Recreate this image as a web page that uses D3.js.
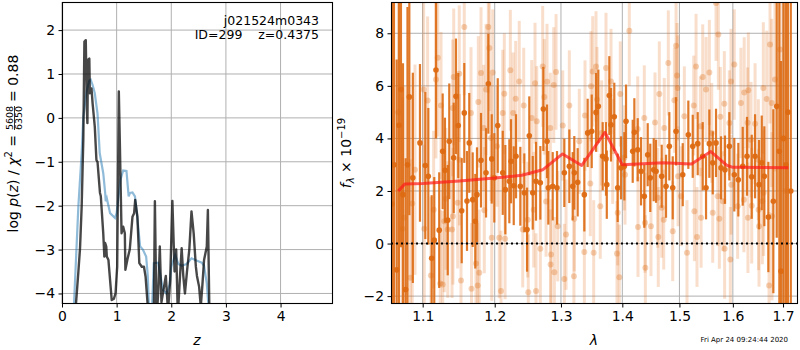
<!DOCTYPE html>
<html>
<head>
<meta charset="utf-8">
<script src="https://cdn.jsdelivr.net/npm/d3@7"></script>
<style>
body { margin: 0; background: #fff; }
text { font-family: "DejaVu Sans", sans-serif; }
</style>
</head>
<body>
<script>
// ---- left panel: p(z) curves ----
var zGrid = [0.20,0.24,0.30,0.33,0.36,0.39,0.41,0.435,0.455,0.465,0.475,0.50,0.51,0.54,0.56,0.60,0.63,0.65,0.695,0.71,0.755,0.775,0.79,0.81,0.82,0.85,0.91,0.95,0.98,1.01,1.04,1.06,1.09,1.12,1.15,1.16,1.20,1.24,1.29,1.32,1.34,1.38,1.415,1.46,1.50,1.53,1.57,1.62,1.68,1.70,1.73,1.76,1.79,1.82,1.86,1.90,1.94,1.98,2.02,2.06,2.09,2.12,2.16,2.19,2.22,2.25,2.29,2.33,2.37,2.41,2.45,2.47,2.51,2.54,2.57,2.60,2.65,2.67,2.70,2.72];
var logPz = [-6,-4.5,-3.5,-2.97,-2.02,-0.5,1.74,1.77,0.2,-0.12,1.32,1.35,0.56,0.67,0.33,-0.2,-0.96,-1.0,-1.71,-1.78,-2.63,-3.16,-2.85,-2.93,-3.16,-3.24,-4.15,-4.12,-4.0,-3.39,0.6,-0.65,-2.63,-2.48,-2.63,-3.46,-3.21,-3.0,-2.25,-2.17,-1.87,-2.25,-3.31,-3.39,-3.39,-3.62,-4.3,-5.5,-4.6,-1.9,-4.6,-4.0,-2.93,-4.2,-3.9,-3.6,-4.4,-3.7,-1.89,-3.5,-3.0,-4.5,-3.6,-2.97,-3.6,-4.0,-3.47,-3.0,-2.13,-2.63,-3.39,-3.6,-3.85,-4.3,-3.8,-3.24,-2.93,-2.1,-4.6,-6];

var zChi = [0.20,0.22,0.30,0.36,0.39,0.45,0.50,0.525,0.56,0.60,0.65,0.69,0.755,0.79,0.80,0.82,0.88,0.97,1.00,1.07,1.12,1.18,1.22,1.245,1.29,1.335,1.37,1.43,1.48,1.54,1.57,1.60,1.64,1.68,1.76,1.85,1.91,1.97,2.00,2.07,2.13,2.19,2.28,2.37,2.46,2.56,2.60,2.65,2.70,2.72];
var chiCurve = [-6,-4.24,-2.0,-0.8,0.03,0.6,0.85,0.87,0.75,0.56,0.1,-0.8,-1.26,-1.71,-1.9,-1.83,-2.17,-2.28,-2.17,-1.41,-1.2,-1.21,-1.79,-1.71,-1.7,-1.79,-2.17,-2.93,-3.0,-3.16,-3.6,-4.6,-4.6,-3.31,-3.3,-3.92,-4.0,-3.8,-3.39,-3.12,-3.33,-3.37,-3.33,-3.2,-3.25,-3.3,-3.37,-3.77,-4.6,-6];

var zTicks = [0, 1, 2, 3, 4];
var pzTicks = [-4, -3, -2, -1, 0, 1, 2];

// ---- right panel: spectrum ----
var lamA = [1.0600,1.0625,1.0660,1.0690,1.0715,1.0741,1.0776,1.0800,1.0824,1.0870,1.0964,1.1035,1.1075,1.1120,1.1155,1.1178,1.1222,1.1269,1.1300,1.1338,1.1359,1.1420,1.1451,1.1483,1.1531,1.1567,1.1605,1.1637,1.1685,1.1722,1.1746,1.1803,1.1875,1.1908,1.1957,1.1994,1.2044,1.2117,1.2155,1.2214,1.2239,1.2279,1.2313,1.2377,1.2437,1.2478,1.2512,1.2564,1.2614,1.2680,1.2726,1.2783,1.2803,1.2871,1.2938,1.3053,1.3132,1.3186,1.3211,1.3265,1.3372,1.3426,1.3492,1.3562,1.3600,1.3672,1.3727,1.3740,1.3782,1.3810,1.3865,1.3922,1.3978,1.4034,1.4063,1.4177,1.4205,1.4263,1.4320,1.4377,1.4436,1.4481,1.4541,1.4582,1.4682,1.4759,1.4818,1.4879,1.4939,1.5060,1.5162,1.5243,1.5335,1.5428,1.5490,1.5552,1.5616,1.5678,1.5773,1.5849,1.5932,1.6028,1.6106,1.6192,1.6276,1.6369,1.6435,1.6514,1.6568,1.6620,1.6701,1.6802,1.6871,1.6924,1.6959,1.7010,1.7060,1.7100,1.7160];
var fluxA = [1.5,3.0,-1.0,4.5,5.86,1.86,-1.75,3.0,5.58,2.5,3.83,2.97,2.56,-0.56,0.13,6.6,0.51,3.51,2.79,0.89,3.89,3.26,5.6,4.49,1.25,4.97,1.62,3.83,1.67,0.85,1.86,3.17,2.69,6.08,3.22,2.5,4.49,2.69,2.05,2.37,3.13,2.2,3.32,2.18,1.93,0.53,4.1,1.93,2.37,2.31,5.12,3.89,2.12,2.18,2.12,2.69,2.94,2.18,2.69,2.33,1.86,4.21,4.27,4.99,5.22,3.32,3.22,2.24,5.63,4.52,4.82,2.12,2.88,2.94,4.65,3.51,4.23,3.57,2.75,1.8,3.38,2.5,2.81,2.75,2.56,2.18,3.7,2.12,4.27,2.62,4.14,3.7,3.8,3.32,2.12,3.8,3.07,3.83,2.88,2.81,3.7,2.62,2.43,2.94,3.32,2.54,3.32,2.24,3.07,2.56,1.01,1.61,5.22,3.51,-1.05,4.0,3.0,5.0,2.0];
var errA = [9,8,8,7,6,5,5,6,4.5,4,3.0,2.8,2.6,2.4,2.4,2.6,2.2,2.2,2.0,2.1,2.2,2.1,2.2,2.0,2.0,1.9,1.9,1.9,1.8,1.8,1.8,1.8,1.7,1.9,1.7,1.7,1.8,1.6,1.7,1.6,1.6,1.5,1.6,1.5,1.5,1.6,1.5,1.4,1.5,1.4,1.6,1.4,1.4,1.3,1.4,1.3,1.4,1.3,1.4,1.3,1.4,1.3,1.4,1.5,1.4,1.3,1.4,1.3,1.5,1.4,1.3,1.3,1.2,1.3,1.4,1.2,1.3,1.2,1.3,1.2,1.2,1.3,1.2,1.2,1.2,1.2,1.3,1.2,1.3,1.2,1.3,1.2,1.2,1.3,1.2,1.3,1.2,1.3,1.2,1.3,1.3,1.4,1.4,1.5,1.5,1.6,1.6,1.7,1.8,1.9,2.1,3.5,5,7,8,8,9,9,9];

var lamB = [1.0620,1.0680,1.0736,1.0757,1.0837,1.0862,1.0898,1.1013,1.1021,1.1066,1.1110,1.1147,1.1178,1.1202,1.1236,1.1246,1.1269,1.1291,1.1314,1.1338,1.1397,1.1406,1.1410,1.1420,1.1475,1.1497,1.1500,1.1521,1.1567,1.1661,1.1668,1.1732,1.1756,1.1765,1.1779,1.1803,1.1841,1.1850,1.1875,1.1908,1.1922,1.1947,1.1957,1.1971,1.2033,1.2066,1.2092,1.2117,1.2140,1.2151,1.2229,1.2270,1.2308,1.2361,1.2413,1.2428,1.2488,1.2497,1.2549,1.2579,1.2599,1.2614,1.2625,1.2680,1.2716,1.2741,1.2768,1.2783,1.2834,1.2838,1.2845,1.2887,1.2897,1.2923,1.2949,1.3028,1.3053,1.3080,1.3132,1.3205,1.3211,1.3291,1.3372,1.3383,1.3469,1.3480,1.3508,1.3524,1.3562,1.3579,1.3632,1.3655,1.3727,1.3810,1.3838,1.3910,1.3922,1.3949,1.3966,1.4034,1.4046,1.4119,1.4263,1.4268,1.4377,1.4389,1.4395,1.4493,1.4564,1.4612,1.4622,1.4640,1.4682,1.4718,1.4728,1.4800,1.4879,1.4909,1.4939,1.4957,1.4969,1.4975,1.5029,1.5089,1.5138,1.5262,1.5273,1.5304,1.5322,1.5384,1.5397,1.5428,1.5490,1.5552,1.5597,1.5616,1.5678,1.5711,1.5722,1.5741,1.5760,1.5806,1.5836,1.5842,1.5932,1.5951,1.5964,1.5970,1.6028,1.6093,1.6157,1.6215,1.6221,1.6288,1.6294,1.6302,1.6355,1.6369,1.6435,1.6500,1.6505,1.6514,1.6580,1.6600,1.6606,1.6668,1.6715,1.6735,1.6769,1.6775,1.6836,1.6938,1.7000,1.7050];
var fluxB = [3.0,5.0,0.56,0.98,-1.3,1.52,2.81,5.86,0.56,5.44,-1.22,1.29,6.24,7.07,-1.52,5.25,-1.56,0.85,1.7,0.53,0.53,5.16,1.04,6.34,1.55,6.46,3.19,-1.41,8.24,4.97,-1.72,-0.76,-1.6,5.39,-1.11,6.49,4.4,1.27,5.86,8.24,7.44,4.02,0.22,6.51,3.7,0.22,-1.81,4.97,5.7,0.18,6.59,4.97,5.51,6.17,0.53,5.25,0.91,-1.85,4.78,1.29,6.1,-1.81,4.65,-0.2,6.74,5.58,1.6,6.16,4.4,-0.8,-0.42,6.03,-1.09,6.53,0.66,4.49,-1.35,0.34,5.25,-1.24,0.94,3.89,-0.32,4.87,2.28,5.98,6.55,-0.35,6.74,5.48,1.42,4.21,6.68,6.17,3.51,-0.38,1.17,-1.28,5.69,3.26,2.62,8.1,4.36,0.63,4.78,0.79,-0.92,0.66,4.61,1.74,0.25,5.69,1.36,0.91,4.4,6.87,0.47,5.45,7.53,6.39,5.92,2.56,1.8,4.84,-0.35,5.25,1.23,6.74,0.25,4.46,0.98,6.34,5.86,6.51,4.21,1.17,9.15,1.8,7.95,0.94,4.82,1.61,5.32,-0.2,4.59,-0.61,6.17,2.24,6.81,1.42,5.35,1.67,5.75,4.6,0.98,5.83,3.95,1.44,4.56,3.19,1.29,0.66,1.61,5.92,1.93,5.5,-1.6,7.57,5.35,1.04,6.24,7.38,4.0,2.0];
var errB = [7,6,5,5,4.5,4,4,3.5,3.2,3.2,3,3,3,3,2.8,2.8,2.8,2.7,2.7,2.6,2.6,2.6,2.6,2.6,2.5,2.6,2.5,2.5,2.6,2.5,2.5,2.4,2.4,2.5,2.4,2.5,2.4,2.4,2.5,2.5,2.4,2.4,2.4,2.4,2.3,2.3,2.3,2.4,2.3,2.3,2.3,2.3,2.2,2.3,2.2,2.2,2.2,2.2,2.2,2.2,2.3,2.2,2.1,2.2,2.3,2.2,2.1,2.2,2.1,2.1,2.1,2.2,2.1,2.2,2.1,2.1,2.1,2.1,2.1,2.1,2.0,2.0,2.0,2.1,2.0,2.1,2.1,2.0,2.1,2.0,2.0,2.0,2.1,2.0,2.0,2.0,2.0,2.0,2.0,2.0,1.9,2.1,2.0,1.9,2.0,1.9,2.0,1.9,1.9,1.9,1.9,2.0,1.9,1.9,1.9,2.0,1.9,2.0,2.1,2.0,2.0,1.9,1.9,1.9,2.0,1.9,1.9,2.0,1.9,1.9,1.9,2.0,2.0,2.0,1.9,1.9,2.2,1.9,2.1,1.9,1.9,1.9,2.0,1.9,2.0,2.0,2.0,1.9,2.1,2.0,2.1,2.0,2.1,2.1,2.1,2.2,2.2,2.2,2.3,2.3,2.3,2.3,2.4,2.5,2.4,2.6,2.8,3,3.2,3.2,3.5,4.5,7,8];

var lamModel = [1.068,1.0767,1.10,1.15,1.20,1.24,1.272,1.3025,1.333,1.371,1.40,1.471,1.522,1.558,1.588,1.60,1.711];
var fluxModel = [2.0,2.27,2.28,2.38,2.49,2.6,2.81,3.41,2.97,4.23,3.0,3.07,3.03,3.5,2.98,2.9,2.88];

var lamTicks = [1.1, 1.2, 1.3, 1.4, 1.5, 1.6, 1.7];
var fluxTicks = [-2, 0, 2, 4, 6, 8];

var svg = d3.select("body").append("svg")
    .attr("width", 800)
    .attr("height", 350);

var defs = svg.append("defs");

function panel(name, x0, x1, y0, y1) 
{
    defs.append("clipPath").attr("id", "clip-" + name)
        .append("rect")
        .attr("x", x0).attr("y", y0)
        .attr("width", x1 - x0).attr("height", y1 - y0);
    return svg.append("g");
}

function grid(g, x, y, xt, yt)
{
    var x0 = x.range()[0], x1 = x.range()[1];
    var y0 = y.range()[1], y1 = y.range()[0];
    g.append("g").selectAll("line").data(xt).enter().append("line")
        .attr("x1", function(d) { return x(d); })
        .attr("x2", function(d) { return x(d); })
        .attr("y1", y0).attr("y2", y1)
        .style("stroke", "#b0b0b0").style("stroke-width", 1);
    g.append("g").selectAll("line").data(yt).enter().append("line")
        .attr("y1", function(d) { return y(d); })
        .attr("y2", function(d) { return y(d); })
        .attr("x1", x0).attr("x2", x1)
        .style("stroke", "#b0b0b0").style("stroke-width", 1);
}

function frame(g, x, y, xt, yt, xfmt, yfmt)
{
    var x0 = x.range()[0], x1 = x.range()[1];
    var y0 = y.range()[1], y1 = y.range()[0];
    var ax = g.append("g")
        .attr("transform", "translate(0," + y1 + ")")
        .call(d3.axisBottom(x).tickValues(xt).tickFormat(xfmt).tickSize(3.5).tickPadding(3.5));
    var ay = g.append("g")
        .attr("transform", "translate(" + x0 + ",0)")
        .call(d3.axisLeft(y).tickValues(yt).tickFormat(yfmt).tickSize(3.5).tickPadding(3.5));
    [ax, ay].forEach(function(a) 
    {
        a.select(".domain").remove();
        a.selectAll("line").style("stroke", "#000").style("stroke-width", 1);
        a.selectAll("text").style("font-size", "13.9px").style("fill", "#000")
         .style("font-family", "DejaVu Sans");
    });
    g.append("rect")
        .attr("x", x0 + 0.5).attr("y", y0 + 0.5)
        .attr("width", x1 - x0 - 1).attr("height", y1 - y0 - 1)
        .style("fill", "none").style("stroke", "#000").style("stroke-width", 1.1);
}

var minusFmt = function(d) { return d < 0 ? "\u2212" + Math.abs(d) : String(d); };

// ---------- left panel ----------
var zx = d3.scaleLinear().domain([0, 4.96]).range([62, 333]);
var zy = d3.scaleLinear().domain([-4.24, 2.64]).range([304, 2]);
var gL = panel("left", 62, 333, 2, 304);
grid(gL, zx, zy, zTicks, pzTicks);

var gLc = gL.append("g").attr("clip-path", "url(#clip-left)");
var chiLine = d3.line()
    .x(function(d, i) { return zx(zChi[i]); })
    .y(function(d) { return zy(d); });
gLc.append("path").datum(chiCurve)
    .attr("d", chiLine)
    .style("fill", "none").style("stroke", "#1f77b4").style("stroke-opacity", 0.5)
    .style("stroke-width", 2.2);

var pzLine = d3.line()
    .x(function(d, i) { return zx(zGrid[i]); })
    .y(function(d) { return zy(d); });
gLc.append("path").datum(logPz)
    .attr("d", pzLine)
    .style("fill", "none").style("stroke", "#000").style("stroke-opacity", 0.72)
    .style("stroke-width", 2.4).style("stroke-linejoin", "round");

frame(gL, zx, zy, zTicks, pzTicks, function(d) { return d; }, minusFmt);

gL.append("text").attr("x", 319).attr("y", 25).attr("text-anchor", "end")
    .style("font-size", "12.5px").text("j021524m0343");
gL.append("text").attr("x", 319).attr("y", 39).attr("text-anchor", "end")
    .style("font-size", "12.5px").attr("xml:space", "preserve").text("ID=299    z=0.4375");

gL.append("text").attr("x", 197).attr("y", 345).attr("text-anchor", "middle")
    .style("font-size", "14px").style("font-style", "italic").text("z");

// y label: log p(z) / chi^2 = frac = 0.88
var yl = svg.append("g").attr("transform", "translate(0,155) rotate(-90)");
var t1 = yl.append("text").attr("x", 20).attr("y", 18).attr("text-anchor", "end")
    .style("font-size", "14px");
t1.append("tspan").text("log ");
t1.append("tspan").style("font-style", "italic").text("p");
t1.append("tspan").text("(");
t1.append("tspan").style("font-style", "italic").text("z");
t1.append("tspan").text(") / ");
t1.append("tspan").style("font-style", "italic").text("\u03c7");
t1.append("tspan").attr("dy", -6).style("font-size", "10px").text("2");
t1.append("tspan").attr("dy", 6).text(" = ");
yl.append("text").attr("x", 37).attr("y", 12.5).attr("text-anchor", "middle")
    .style("font-size", "9.5px").text("5608");
yl.append("line").attr("x1", 25).attr("x2", 49).attr("y1", 14.5).attr("y2", 14.5)
    .style("stroke", "#000").style("stroke-width", 0.8);
yl.append("text").attr("x", 37).attr("y", 22).attr("text-anchor", "middle")
    .style("font-size", "9.5px").text("6350");
yl.append("text").attr("x", 53).attr("y", 18).attr("text-anchor", "start")
    .style("font-size", "14px").text("= 0.88");

// ---------- right panel ----------
var lx = d3.scaleLog().domain([1.0587, 1.731]).range([391, 798]);
var ly = d3.scaleLinear().domain([-2.3, 9.19]).range([304, 2]);
var gR = panel("right", 391, 798, 2, 304);
grid(gR, lx, ly, lamTicks, fluxTicks);

var gRc = gR.append("g").attr("clip-path", "url(#clip-right)");
var orange = "#dd6a12";

function spectrum(lam, flux, err, barOp, dotOp, barW, r)
{
    var idx = d3.range(lam.length);
    gRc.append("g").selectAll("line").data(idx).enter().append("line")
        .attr("x1", function(i) { return lx(lam[i]); })
        .attr("x2", function(i) { return lx(lam[i]); })
        .attr("y1", function(i) { return ly(flux[i] - err[i]); })
        .attr("y2", function(i) { return ly(flux[i] + err[i]); })
        .style("stroke", orange).style("stroke-opacity", barOp)
        .style("stroke-width", barW);
    gRc.append("g").selectAll("circle").data(idx).enter().append("circle")
        .attr("cx", function(i) { return lx(lam[i]); })
        .attr("cy", function(i) { return ly(flux[i]); })
        .attr("r", r)
        .style("fill", orange).style("fill-opacity", dotOp);
}

spectrum(lamB, fluxB, errB, 0.22, 0.3, 3, 3);
spectrum(lamA, fluxA, errA, 0.9, 0.95, 2.2, 2.8);

var modelLine = d3.line()
    .x(function(d, i) { return lx(lamModel[i]); })
    .y(function(d) { return ly(d); });
gRc.append("path").datum(fluxModel)
    .attr("d", modelLine)
    .style("fill", "none").style("stroke", "#ff1a1a").style("stroke-opacity", 0.7)
    .style("stroke-width", 3).style("stroke-linejoin", "round");

gRc.append("line")
    .attr("x1", 391).attr("x2", 798)
    .attr("y1", ly(0)).attr("y2", ly(0))
    .style("stroke", "#000").style("stroke-width", 2)
    .style("stroke-dasharray", "2,3");

frame(gR, lx, ly, lamTicks, fluxTicks, d3.format(".1f"), minusFmt);

gR.append("text").attr("x", 594).attr("y", 345).attr("text-anchor", "middle")
    .style("font-size", "14px").style("font-style", "italic").text("\u03bb");

var yr = svg.append("g").attr("transform", "translate(351,153) rotate(-90)");
var t2 = yr.append("text").attr("x", 0).attr("y", 0).attr("text-anchor", "middle")
    .style("font-size", "14px");
t2.append("tspan").style("font-style", "italic").text("f");
t2.append("tspan").attr("dy", 3).style("font-size", "10px").style("font-style", "italic").text("\u03bb");
t2.append("tspan").attr("dy", -3).text(" \u00d7 10");
t2.append("tspan").attr("dy", -6).style("font-size", "10px").text("\u221219");

svg.append("text").attr("x", 788).attr("y", 342).attr("text-anchor", "end")
    .style("font-size", "7px").text("Fri Apr 24 09:24:44 2020");
</script>
</body>
</html>
